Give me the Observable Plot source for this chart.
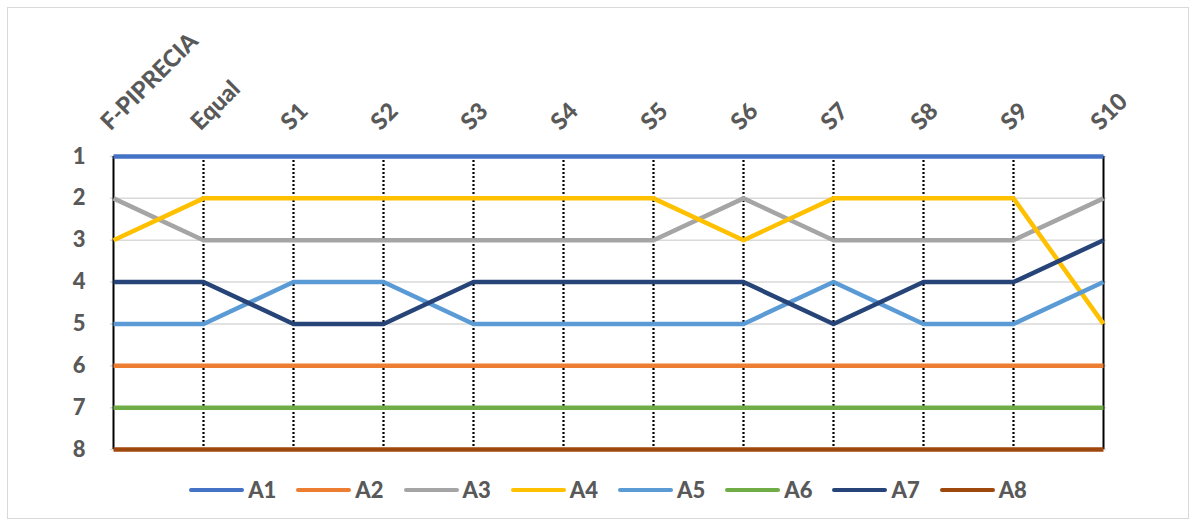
<!DOCTYPE html>
<html>
<head>
<meta charset="utf-8">
<script src="https://cdn.jsdelivr.net/npm/d3@7"></script>
<script src="https://cdn.jsdelivr.net/npm/@observablehq/plot@0.6"></script>
<style>
  html, body { margin: 0; padding: 0; background: #fff; }
  #frame {
    position: absolute; left: 7px; top: 7px; width: 1182px; height: 512px;
    border: 1px solid #d9d9d9; box-sizing: border-box; background: #fff;
    font-family: Lato, "Open Sans", sans-serif;
  }
  #legend {
    display: flex; justify-content: center; align-items: center;
    margin-top: 15px; padding-left: 20px; gap: 20px;
    font-size: 22px; font-weight: 900; color: #595959; line-height: 24px;
  }
  .item { display: flex; align-items: center; }
  .sw { width: 55px; height: 4.5px; border-radius: 3px; margin-right: 4px; }
</style>
</head>
<body>
<div id="frame"><div id="chart"></div><div id="legend"></div></div>
<script>
const categories = ["F-PIPRECIA", "Equal", "S1", "S2", "S3", "S4", "S5", "S6", "S7", "S8", "S9", "S10"];
const seriesNames = ["A1", "A2", "A3", "A4", "A5", "A6", "A7", "A8"];
const seriesColors = ["#4472C4", "#ED7D31", "#A5A5A5", "#FFC000", "#5B9BD5", "#70AD47", "#264478", "#9E480E"];
const rankTicks = [1, 2, 3, 4, 5, 6, 7, 8];

const A1 = [1, 1, 1, 1, 1, 1, 1, 1, 1, 1, 1, 1];
const A2 = [6, 6, 6, 6, 6, 6, 6, 6, 6, 6, 6, 6];
const A3 = [2, 3, 3, 3, 3, 3, 3, 2, 3, 3, 3, 2];
const A4 = [3, 2, 2, 2, 2, 2, 2, 3, 2, 2, 2, 5];
const A5 = [5, 5, 4, 4, 5, 5, 5, 5, 4, 5, 5, 4];
const A6 = [7, 7, 7, 7, 7, 7, 7, 7, 7, 7, 7, 7];
const A7 = [4, 4, 5, 5, 4, 4, 4, 4, 5, 4, 4, 3];
const A8 = [8, 8, 8, 8, 8, 8, 8, 8, 8, 8, 8, 8];

const seriesValues = [A1, A2, A3, A4, A5, A6, A7, A8];
const rows = [];
seriesNames.forEach((s, i) => {
  categories.forEach((c, j) => rows.push({series: s, cat: c, rank: seriesValues[i][j]}));
});

const endCats = [categories[0], categories[categories.length - 1]];
const innerCats = categories.slice(1, -1);

const textStyle = {fontWeight: 900, fill: "#595959", fontFamily: "Lato, 'Open Sans', sans-serif"};

const chart = Plot.plot({
  width: 1180,
  height: 455,
  marginLeft: 102,
  marginRight: 82,
  marginTop: 148,
  marginBottom: 14,
  x: {type: "point", domain: categories, padding: 0, axis: null},
  y: {domain: [1, 8], reverse: true, axis: null},
  color: {domain: seriesNames, range: seriesColors},
  style: {fontFamily: "Lato, 'Open Sans', sans-serif", overflow: "visible"},
  marks: [
    Plot.ruleY(rankTicks, {stroke: "#d9d9d9", strokeWidth: 1.5}),
    Plot.ruleX(innerCats, {x: d => d, y1: 1, y2: 8, stroke: "#000", strokeWidth: 2.2, strokeDasharray: "2,2"}),
    Plot.ruleX(endCats, {x: d => d, y1: 1, y2: 8, stroke: "#000", strokeWidth: 2}),
    ...seriesNames.map(s => Plot.line(rows.filter(r => r.series === s), {
      x: "cat", y: "rank", stroke: "series", strokeWidth: 4.5, strokeLinecap: "butt", strokeLinejoin: "round"
    })),
    Plot.axisY(rankTicks, {label: null, tickSize: 0, tickPadding: 25, fontSize: 22, ...textStyle, textStroke: "none"}),
    Plot.text(categories, {x: d => d, frameAnchor: "top", dx: -3, dy: -25, rotate: -45,
      textAnchor: "start", lineAnchor: "bottom", fontSize: 23.5, ...textStyle})
  ]
});
document.getElementById("chart").appendChild(chart);

const legend = document.getElementById("legend");
seriesNames.forEach((s, i) => {
  const item = document.createElement("div");
  item.className = "item";
  const sw = document.createElement("div");
  sw.className = "sw";
  sw.style.background = seriesColors[i];
  const lab = document.createElement("span");
  lab.textContent = s;
  item.appendChild(sw);
  item.appendChild(lab);
  legend.appendChild(item);
});
</script>
</body>
</html>
